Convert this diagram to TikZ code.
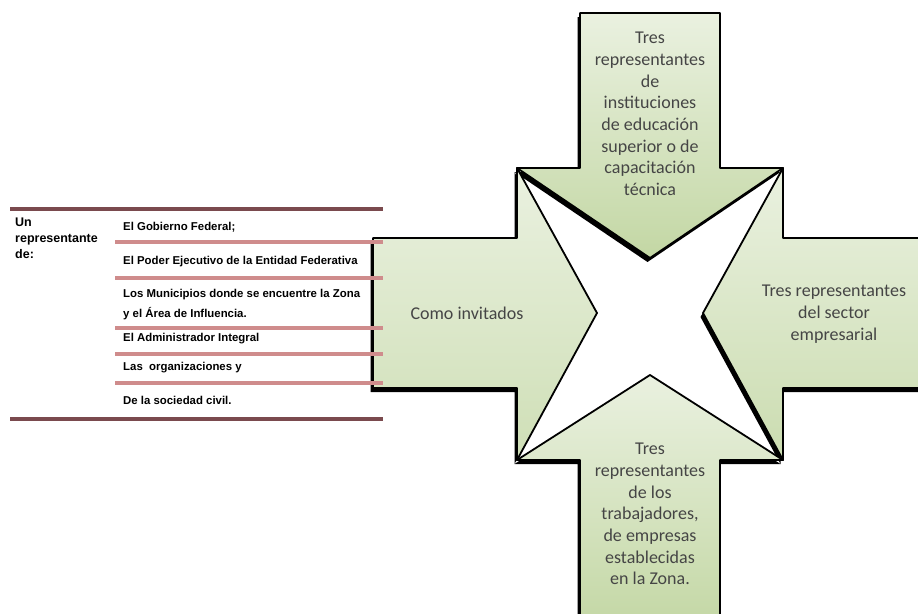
\documentclass[tikz,border=0pt]{standalone}
\usepackage{fontspec}
\setmainfont{Carlito}
\newfontfamily\tabfont{Liberation Sans}
\definecolor{lightgr}{HTML}{EAF1E0}
\definecolor{darkgr}{HTML}{C3D7A4}
\definecolor{txtgray}{HTML}{454545}
\definecolor{rulebrown}{HTML}{7A4A4E}
\definecolor{rulepink}{HTML}{CF8C8C}
% one arrow of the cross: shadow, then shaded body with outline
\newcommand{\bigarrow}[3]{%
  \fill[black,shift={(-2.5,4)}] #1;
  \draw[black,line width=1.8pt,line join=round,top color=#2,bottom color=#3] #1;
}
\begin{document}
\begin{tikzpicture}[x=1pt,y=-1pt,
  armtext/.style={align=center,text=txtgray,font=\fontsize{18}{21.7}\selectfont},
  item/.style={anchor=west,inner sep=0pt,font=\tabfont\bfseries\fontsize{11.4}{20}\selectfont}]

\path[use as bounding box] (0,0) rectangle (918,613);
\clip (0,0) rectangle (918,613);

%cross
\bigarrow{(580,13) -- (720,13) -- (720,168) -- (783,168) -- (650,258) -- (517,168) -- (580,168) -- cycle}{lightgr}{darkgr}
\bigarrow{(373,238) -- (517,238) -- (517,168) -- (597,313) -- (517,460) -- (517,388) -- (373,388) -- cycle}{lightgr}{darkgr!70!lightgr}
\bigarrow{(935,238) -- (783,238) -- (783,168) -- (703,313) -- (783,460) -- (783,388) -- (935,388) -- cycle}{lightgr}{darkgr!80!lightgr}
\bigarrow{(580,630) -- (580,460) -- (517,460) -- (650,375) -- (783,460) -- (720,460) -- (720,630) -- cycle}{lightgr}{darkgr}

\node[armtext] (N) at (650,114) {Tres\\representantes\\de\\instituciones\\de educación\\superior o de\\capacitación\\técnica};
\node[armtext] (W) at (467,313) {Como invitados};
\node[armtext] (E) at (834,314) {Tres representantes\\del sector\\empresarial};
\node[armtext] (S) at (650,514) {Tres\\representantes\\de los\\trabajadores,\\de empresas\\establecidas\\en la Zona.};

%table
\draw[rulebrown,line width=4pt] (10,209) -- (383,209);
\draw[rulebrown,line width=4pt] (10,419) -- (383,419);
\foreach \y in {242,278,328,354,383}
  \draw[rulepink,line width=3.5pt] (115,\y) -- (383,\y);

\node[item,anchor=north west,align=left,font=\tabfont\bfseries\fontsize{12.5}{16}\selectfont] (U) at (15,218) {Un\\representante\\de:};
\node[item] (I1) at (123,227) {El Gobierno Federal;};
\node[item] (I2) at (123,262) {El Poder Ejecutivo de la Entidad Federativa};
\node[item] (I3a) at (123,295) {Los Municipios donde se encuentre la Zona};
\node[item] (I3b) at (123,314) {y el Área de Influencia.};
\node[item] (I4) at (123,339) {El Administrador Integral};
\node[item] (I5) at (123,368) {Las\ \ organizaciones y};
\node[item] (I6) at (123,400) {De la sociedad civil.};
\end{tikzpicture}
\end{document}
